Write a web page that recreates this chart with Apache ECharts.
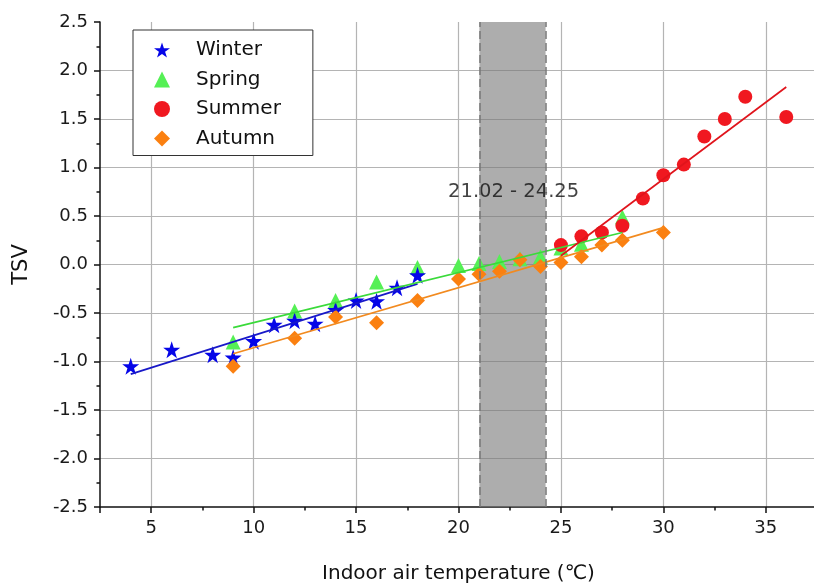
<!DOCTYPE html>
<html>
<head>
<meta charset="utf-8">
<script src="https://cdn.jsdelivr.net/npm/echarts@6/dist/echarts.min.js"></script>
<style>html,body{margin:0;padding:0;background:#fff}#c{width:814px;height:585px}</style>
</head>
<body>
<div id="c"></div>
<script>
// ---- data ----
const winterX = [4, 6, 8, 9, 10, 11, 12, 13, 14, 15, 16, 17, 18];
const winterY = [-1.05, -0.88, -0.93, -0.96, -0.79, -0.62, -0.58, -0.61, -0.47, -0.37, -0.38, -0.24, -0.11];
const springX = [9, 12, 14, 16, 18, 20, 21, 22, 23, 24, 25, 26, 28];
const springY = [-0.8, -0.48, -0.37, -0.18, -0.03, -0.01, 0.01, 0.03, 0.06, 0.08, 0.17, 0.21, 0.49];
const summerX = [25, 26, 27, 28, 29, 30, 31, 32, 33, 34, 36];
const summerY = [0.2, 0.29, 0.33, 0.4, 0.68, 0.92, 1.03, 1.32, 1.5, 1.73, 1.52];
const autumnX = [9, 12, 14, 16, 18, 20, 21, 22, 23, 24, 25, 26, 27, 28, 30];
const autumnY = [-1.05, -0.76, -0.54, -0.6, -0.37, -0.15, -0.1, -0.07, 0.05, -0.02, 0.02, 0.08, 0.2, 0.25, 0.33];
// fitted lines (end points)
const winterFitX = [4, 18];   const winterFitY = [-1.13, -0.2];
const springFitX = [9, 28];   const springFitY = [-0.65, 0.33];
const summerFitX = [25, 36];  const summerFitY = [0.09, 1.83];
const autumnFitX = [9, 30];   const autumnFitY = [-0.92, 0.38];
// comfort band
const bandRange = [21.02, 24.25];
const bandLabel = '21.02 - 24.25';
const bandLabelPos = [22.69, 0.75];
const seriesNames = ['Winter', 'Spring', 'Summer', 'Autumn'];

const pair = (xs, ys) => xs.map((x, i) => [x, ys[i]]);
const FONT = 'DejaVu Sans';
const starPath = 'path://M50,0 L61.8,35.1 L98.9,35.1 L68.9,56.8 L80.3,91.9 L50,70.2 L19.7,91.9 L31.1,56.8 L1.1,35.1 L38.2,35.1 Z';
const C = {winter: '#0505e8', spring: '#55f055', summer: '#f01820', autumn: '#fb8010'};

const chart = echarts.init(document.getElementById('c'), null, {renderer: 'canvas'});
const fitLine = (xs, ys, color) => ({
  type: 'line', data: pair(xs, ys), showSymbol: false, symbol: 'none', silent: true,
  lineStyle: {color: color, width: 1.7}, z: 4, legendHoverLink: false
});
chart.setOption({
  animation: false,
  backgroundColor: '#fff',
  textStyle: {fontFamily: FONT},
  grid: {left: 100, top: 22, width: 717, height: 485, containLabel: false, outerBoundsMode: 'none'},
  legend: {
    orient: 'vertical', left: 133, top: 30,
    data: seriesNames,
    itemWidth: 16, itemHeight: 16, itemGap: 9.5,
    padding: [10, 32, 7, 21],
    borderColor: '#333', borderWidth: 1, backgroundColor: '#fff',
    textStyle: {fontFamily: FONT, fontSize: 20, color: '#111', padding: [0, 0, 0, 21]},
    z: 10
  },
  xAxis: {
    type: 'value', min: 2.5, max: 37.5, splitNumber: 7, minInterval: 5, maxInterval: 5,
    name: 'Indoor air temperature (℃)', nameLocation: 'middle', nameGap: 57,
    nameTextStyle: {fontFamily: FONT, fontSize: 20, color: '#111'},
    axisLine: {show: true, onZero: false, lineStyle: {color: '#111', width: 1.5}},
    axisTick: {show: true, inside: false, length: 6, lineStyle: {color: '#111', width: 1.5}},
    minorTick: {show: true, splitNumber: 2, length: 3.5, lineStyle: {color: '#111', width: 1.5}},
    axisLabel: {fontFamily: FONT, fontSize: 18, color: '#1a1a1a', margin: 12, showMinLabel: false, showMaxLabel: false},
    splitLine: {show: true, showMinLine: false, showMaxLine: false, lineStyle: {color: '#b4b4b4', width: 1.2}}
  },
  yAxis: {
    type: 'value', min: -2.5, max: 2.5, interval: 0.5,
    name: 'TSV', nameLocation: 'middle', nameGap: 68, nameRotate: 90,
    nameTextStyle: {fontFamily: FONT, fontSize: 21, color: '#111'},
    axisLine: {show: true, onZero: false, lineStyle: {color: '#111', width: 1.5}},
    axisTick: {show: true, inside: false, length: 6, lineStyle: {color: '#111', width: 1.5}},
    minorTick: {show: true, splitNumber: 2, length: 3.5, lineStyle: {color: '#111', width: 1.5}},
    axisLabel: {fontFamily: FONT, fontSize: 18, color: '#1a1a1a', margin: 12, formatter: v => v.toFixed(1)},
    splitLine: {show: true, showMinLine: false, showMaxLine: false, lineStyle: {color: '#b4b4b4', width: 1.2}}
  },
  series: [
    {
      name: 'band', type: 'scatter', data: [bandLabelPos], symbolSize: 1, silent: true,
      itemStyle: {color: 'rgba(0,0,0,0)'}, z: 1,
      label: {show: true, position: 'inside', formatter: bandLabel, fontFamily: FONT, fontSize: 19.5, color: '#111'},
      markArea: {silent: true, itemStyle: {color: 'rgba(118,118,118,0.6)'},
        data: [[{xAxis: bandRange[0]}, {xAxis: bandRange[1]}]]},
      markLine: {silent: true, symbol: 'none', label: {show: false},
        lineStyle: {color: '#777', width: 1.5, type: [8, 4]},
        data: [{xAxis: bandRange[0]}, {xAxis: bandRange[1]}]}
    },
    {name: 'Spring', type: 'scatter', data: pair(springX, springY), symbol: 'triangle', symbolSize: 15,
      itemStyle: {color: C.spring, opacity: 1}, z: 2},
    {name: 'Winter', type: 'scatter', data: pair(winterX, winterY), symbol: starPath, symbolSize: 17,
      itemStyle: {color: C.winter, opacity: 1}, z: 3},
    {name: 'Autumn', type: 'scatter', data: pair(autumnX, autumnY), symbol: 'diamond', symbolSize: 15,
      itemStyle: {color: C.autumn, opacity: 1}, z: 3},
    {name: 'Summer', type: 'scatter', data: pair(summerX, summerY), symbol: 'circle', symbolSize: 14,
      itemStyle: {color: C.summer, opacity: 1}, z: 3},
    Object.assign(fitLine(winterFitX, winterFitY, '#1818c8'), {name: 'winterFit'}),
    Object.assign(fitLine(springFitX, springFitY, '#3ada3a'), {name: 'springFit'}),
    Object.assign(fitLine(summerFitX, summerFitY, '#e0141c'), {name: 'summerFit'}),
    Object.assign(fitLine(autumnFitX, autumnFitY, '#f28a1f'), {name: 'autumnFit'})
  ]
});
</script>
</body>
</html>
